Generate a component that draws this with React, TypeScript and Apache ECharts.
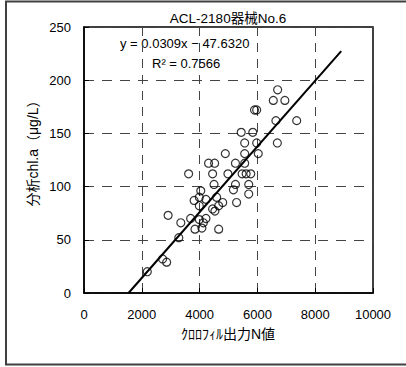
import React, { useEffect, useRef } from "react";
import * as echarts from "echarts";

const titleText = "ACL-2180器械No.6";
const equationText = "y = 0.0309x − 47.6320";
const r2Text = "R² = 0.7566";
const xAxisName = "ｸﾛﾛﾌｨﾙ出力N値";
const yAxisName = "分析chl.a（μg/L）";

const xMin = 0;
const xMax = 10000;
const xInterval = 2000;
const yMin = 0;
const yMax = 250;
const yInterval = 50;

const slope = 0.0309;
const intercept = -47.632;
const trendXStart = 1541;
const trendXEnd = 8900;

const pointsX = [
  6700, 6550, 6950,
  5900, 5975,
  6640, 7360,
  5440, 5840,
  5560, 5975, 6690,
  4890, 5560, 6030,
  4310, 4520, 5240, 5560,
  3620, 4450, 4980, 5470, 5610, 5770,
  4500, 5240, 5700,
  4040, 5170, 5700,
  3810, 3990, 4220, 4590,
  3990, 4800, 5280,
  4450, 4530, 4660,
  2910, 3690, 3990, 4220, 3350, 4130,
  3840, 4080, 4660,
  3280,
  2720, 2860,
  2190,
];
const pointsY = [
  191, 181, 181,
  172, 172,
  162, 162,
  151, 151,
  141, 141, 141,
  131, 131, 131,
  122, 122, 122, 122,
  112, 112, 112, 112, 112, 112,
  102, 102, 102,
  96, 97, 93,
  87, 90, 88, 90,
  82, 85, 85,
  79, 77, 82,
  73, 70, 69, 70, 66, 66,
  60, 61, 60,
  52,
  32, 29,
  20,
];

const FONT = "'Liberation Sans', 'Noto Sans CJK JP', sans-serif";

export default function App() {
  const ref = useRef<HTMLDivElement>(null);
  useEffect(() => {
    document.body.style.margin = "0";
    if (!ref.current) return;
    const chart = echarts.init(ref.current, null, { renderer: "svg" });
    const scatterData = pointsX.map((x, i) => [x, pointsY[i]]);
    const trendData = [
      [trendXStart, slope * trendXStart + intercept],
      [trendXEnd, slope * trendXEnd + intercept],
    ];
    chart.setOption({
      animation: false,
      backgroundColor: "#fff",
      grid: {
        left: 84,
        right: 33,
        top: 27,
        bottom: 74,
        show: true,
        borderColor: "#000",
        borderWidth: 1.5,
        backgroundColor: "transparent",
      },
      xAxis: {
        type: "value",
        min: xMin,
        max: xMax,
        interval: xInterval,
        axisLine: { show: true, lineStyle: { color: "#000", width: 1.5 } },
        axisTick: { show: true, inside: true, length: 5, lineStyle: { color: "#000" } },
        axisLabel: {
          color: "#000",
          fontSize: 13,
          fontFamily: FONT,
          margin: 15,
          formatter: (v: number) => String(v),
        },
        splitLine: { show: true, lineStyle: { color: "#444", type: [9, 7], width: 1 } },
      },
      yAxis: {
        type: "value",
        min: yMin,
        max: yMax,
        interval: yInterval,
        axisLine: { show: true, lineStyle: { color: "#000", width: 1.5 } },
        axisTick: { show: true, inside: true, length: 5, lineStyle: { color: "#000" } },
        axisLabel: {
          color: "#000",
          fontSize: 13,
          fontFamily: FONT,
          margin: 13,
          formatter: (v: number) => String(v),
        },
        splitLine: { show: true, lineStyle: { color: "#444", type: [10, 8], width: 1 } },
      },
      graphic: [
        {
          type: "rect",
          shape: { x: 6, y: 1.5, width: 420, height: 363 },
          style: { fill: "none", stroke: "#404040", lineWidth: 2 },
          silent: true,
        },
        {
          type: "text",
          x: 228,
          y: 18,
          style: {
            text: titleText,
            fill: "#000",
            font: `13.5px ${FONT}`,
            textAlign: "center",
            textVerticalAlign: "middle",
          },
        },
        {
          type: "text",
          x: 120,
          y: 43,
          style: {
            text: equationText,
            fill: "#000",
            font: `13px ${FONT}`,
            textAlign: "left",
            textVerticalAlign: "middle",
          },
        },
        {
          type: "text",
          x: 152,
          y: 63,
          style: {
            text: r2Text,
            fill: "#000",
            font: `13px ${FONT}`,
            textAlign: "left",
            textVerticalAlign: "middle",
          },
        },
        {
          type: "text",
          x: 228,
          y: 334,
          style: {
            text: xAxisName,
            fill: "#000",
            font: `14px ${FONT}`,
            textAlign: "center",
            textVerticalAlign: "middle",
          },
        },
        {
          type: "text",
          x: 33,
          y: 150,
          rotation: Math.PI / 2,
          style: {
            text: yAxisName,
            fill: "#000",
            font: `14px ${FONT}`,
            textAlign: "center",
            textVerticalAlign: "middle",
          },
        },
      ],
      series: [
        {
          type: "line",
          data: trendData,
          symbol: "none",
          lineStyle: { color: "#000", width: 2 },
          z: 3,
        },
        {
          type: "scatter",
          data: scatterData,
          symbol: "circle",
          symbolSize: 8,
          itemStyle: { color: "rgba(0,0,0,0)", borderColor: "#000", borderWidth: 1.2 },
          z: 4,
        },
      ],
    });
    return () => chart.dispose();
  }, []);
  return <div ref={ref} style={{ width: 406, height: 367 }} />;
}
